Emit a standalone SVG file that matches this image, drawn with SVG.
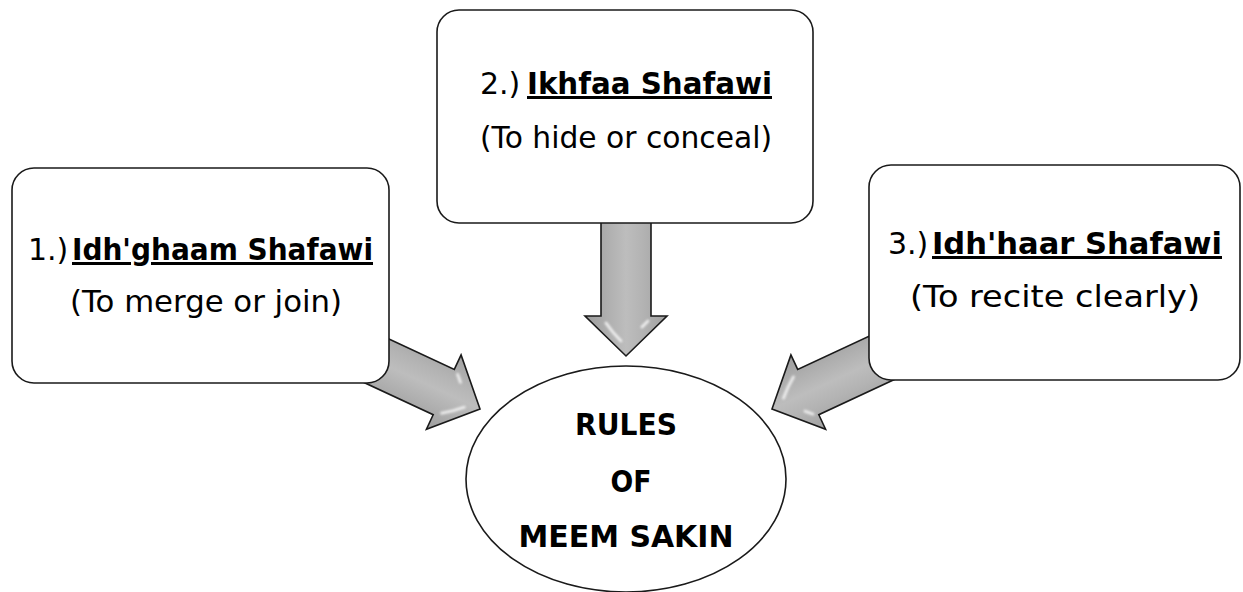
<svg xmlns="http://www.w3.org/2000/svg" xmlns:xlink="http://www.w3.org/1999/xlink" width="1243" height="592" viewBox="0 0 1243 592">
  <style>
    .box { fill: #ffffff; stroke: #1a1a1a; stroke-width: 1.6; }
    .hub { fill: #ffffff; stroke: #1a1a1a; stroke-width: 1.6; }
    .txt { font-family: "DejaVu Sans", "Noto Sans", sans-serif; font-size: 30px; fill: #000000; }
    .b { font-weight: bold; text-decoration: underline; }
    .hubtxt { font-family: "DejaVu Sans", "Noto Sans", sans-serif; font-size: 30px; font-weight: bold; fill: #000000; text-anchor: middle; }
    .mid { text-anchor: middle; }
    .arrow { fill: url(#arrowFill); stroke: #1a1a1a; stroke-width: 1.6; stroke-linejoin: miter; }
    .gloss { fill: none; stroke: #ffffff; stroke-width: 3; stroke-linecap: round; opacity: 0.75; }
  </style>
  <defs>
    <!-- shading across the width of a block arrow (local frame: tip at origin, pointing +x) -->
    <linearGradient id="arrowFill" gradientUnits="userSpaceOnUse" x1="0" y1="-42" x2="0" y2="42">
      <stop offset="0" stop-color="#a0a0a0"/>
      <stop offset="0.3" stop-color="#b3b3b3"/>
      <stop offset="0.5" stop-color="#bdbdbd"/>
      <stop offset="0.7" stop-color="#b0b0b0"/>
      <stop offset="1" stop-color="#9c9c9c"/>
    </linearGradient>
    <filter id="soft" x="-50%" y="-50%" width="200%" height="200%">
      <feGaussianBlur stdDeviation="1.1"/>
    </filter>
    <g id="blockArrow">
      <path class="arrow" d="M -150,-25 L -40,-25 L -40,-41 L 0,0 L -40,41 L -40,25 L -150,25 Z"/>
      <g filter="url(#soft)">
        <path class="gloss" d="M -33,20 Q -24,14 -15,5"/>
        <path class="gloss" d="M -35,-22 L -29,-16"/>
      </g>
    </g>
  </defs>

  <!-- connectors: block arrows pointing into the central ellipse -->
  <g id="connectors">
    <use xlink:href="#blockArrow" href="#blockArrow" transform="translate(480,409) rotate(25)"/>
    <use xlink:href="#blockArrow" href="#blockArrow" transform="translate(626,356) rotate(90)"/>
    <use xlink:href="#blockArrow" href="#blockArrow" transform="translate(772,409) rotate(155)"/>
  </g>

  <g id="node-idghaam">
    <rect class="box" x="12" y="168" width="377" height="215" rx="22" ry="22"/>
    <text class="txt" y="260"><tspan x="28">1.)</tspan><tspan class="b" x="72" textLength="301" lengthAdjust="spacingAndGlyphs">Idh'ghaam Shafawi</tspan></text>
    <text class="txt mid" x="206" y="312" textLength="272" lengthAdjust="spacingAndGlyphs">(To merge or join)</text>
  </g>

  <g id="node-ikhfaa">
    <rect class="box" x="437" y="10" width="376" height="213" rx="22" ry="22"/>
    <text class="txt" y="94"><tspan x="480">2.)</tspan><tspan class="b" x="527" textLength="245" lengthAdjust="spacingAndGlyphs">Ikhfaa Shafawi</tspan></text>
    <text class="txt mid" x="626" y="148" textLength="292" lengthAdjust="spacingAndGlyphs">(To hide or conceal)</text>
  </g>

  <g id="node-idhaar">
    <rect class="box" x="869" y="165" width="371" height="215" rx="22" ry="22"/>
    <text class="txt" y="254"><tspan x="888">3.)</tspan><tspan class="b" x="932" textLength="290" lengthAdjust="spacingAndGlyphs">Idh'haar Shafawi</tspan></text>
    <text class="txt mid" x="1055" y="307" textLength="290" lengthAdjust="spacingAndGlyphs">(To recite clearly)</text>
  </g>

  <g id="node-rules">
    <ellipse class="hub" cx="626" cy="479" rx="160" ry="113"/>
    <text class="hubtxt" x="626" y="435" textLength="102" lengthAdjust="spacingAndGlyphs">RULES</text>
    <text class="hubtxt" x="631" y="492" textLength="41" lengthAdjust="spacingAndGlyphs">OF</text>
    <text class="hubtxt" x="626" y="547" textLength="215" lengthAdjust="spacingAndGlyphs">MEEM SAKIN</text>
  </g>
</svg>
